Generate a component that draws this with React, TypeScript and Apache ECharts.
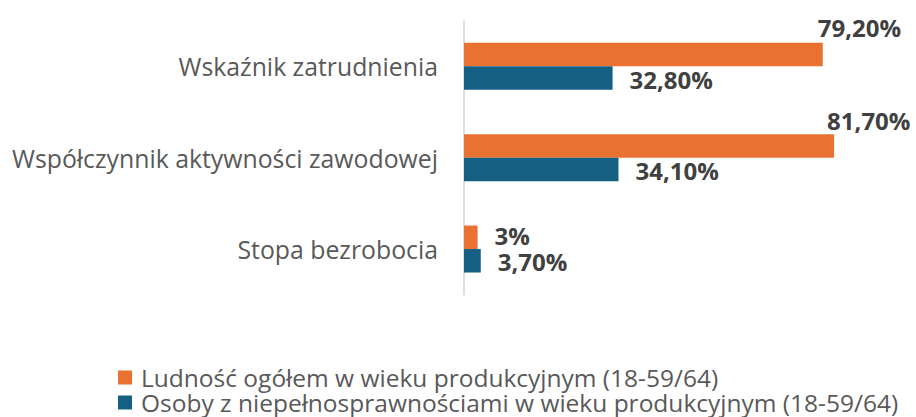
import React, { useEffect, useRef } from "react";
import * as echarts from "echarts";

const categories = [
  "Wskaźnik zatrudnienia",
  "Współczynnik aktywności zawodowej",
  "Stopa bezrobocia",
];
const seriesNames = [
  "Ludność ogółem w wieku produkcyjnym (18-59/64)",
  "Osoby z niepełnosprawnościami w wieku produkcyjnym (18-59/64)",
];
const totalValues = [79.2, 81.7, 3];
const disabledValues = [32.8, 34.1, 3.7];
const totalLabels = ["79,20%", "81,70%", "3%"];
const disabledLabels = ["32,80%", "34,10%", "3,70%"];

const ORANGE = "#E97132";
const BLUE = "#156082";
const FONT = "'Open Sans', 'Noto Sans', sans-serif";

export default function App() {
  const ref = useRef<HTMLDivElement>(null);
  useEffect(() => {
    document.body.style.margin = "0";
    const chart = echarts.init(ref.current!, null, { renderer: "svg" });
    const labelBase = {
      show: true,
      position: "right",
      distance: 17,
      fontFamily: FONT,
      fontSize: 24,
      lineHeight: 21,
      fontWeight: "bold",
      color: "#404040",
    };
    const totalOffsets: [number, number][] = [
      [-22, -27.5],
      [-24, -25],
      [0, -2],
    ];
    const legendText = {
      fontFamily: FONT,
      fontSize: 24.5,
      lineHeight: 24,
      color: "#595959",
      padding: [0, 0, 0, 4],
    };
    chart.setOption({
      animation: false,
      textStyle: { fontFamily: FONT },
      grid: {
        left: 464,
        top: 20.7,
        width: 407.7,
        height: 274,
        containLabel: false,
        outerBoundsMode: "none",
      },
      xAxis: {
        type: "value",
        min: 0,
        max: 90,
        show: false,
        splitLine: { show: false },
      },
      yAxis: {
        type: "category",
        inverse: true,
        data: categories,
        axisLine: { show: true, lineStyle: { color: "#d4d4d4", width: 1.5 } },
        axisTick: { show: false },
        axisLabel: {
          margin: 26,
          fontFamily: FONT,
          fontSize: 24.8,
          color: "#595959",
        },
      },
      legend: [
        {
          orient: "vertical",
          left: 118,
          top: 365,
          padding: 0,
          itemWidth: 14,
          itemHeight: 14,
          icon: "rect",
          textStyle: legendText,
          data: [seriesNames[0]],
        },
        {
          orient: "vertical",
          left: 118,
          top: 390,
          padding: 0,
          itemWidth: 14,
          itemHeight: 14,
          icon: "rect",
          textStyle: legendText,
          data: [seriesNames[1]],
        },
      ],
      series: [
        {
          name: seriesNames[0],
          type: "bar",
          barWidth: 23.5,
          barGap: "0%",
          itemStyle: { color: ORANGE },
          data: totalValues.map((v, i) => ({
            value: v,
            label: { ...labelBase, offset: totalOffsets[i] },
          })),
          label: {
            ...labelBase,
            formatter: (p: any) => totalLabels[p.dataIndex],
          },
        },
        {
          name: seriesNames[1],
          type: "bar",
          barWidth: 23.5,
          barGap: "0%",
          itemStyle: { color: BLUE },
          data: disabledValues,
          label: {
            ...labelBase,
            offset: [0, 1],
            formatter: (p: any) => disabledLabels[p.dataIndex],
          },
        },
      ],
    });
    return () => chart.dispose();
  }, []);
  return (
    <div
      ref={ref}
      style={{ position: "absolute", left: 0, top: 0, width: 916, height: 417 }}
    />
  );
}
